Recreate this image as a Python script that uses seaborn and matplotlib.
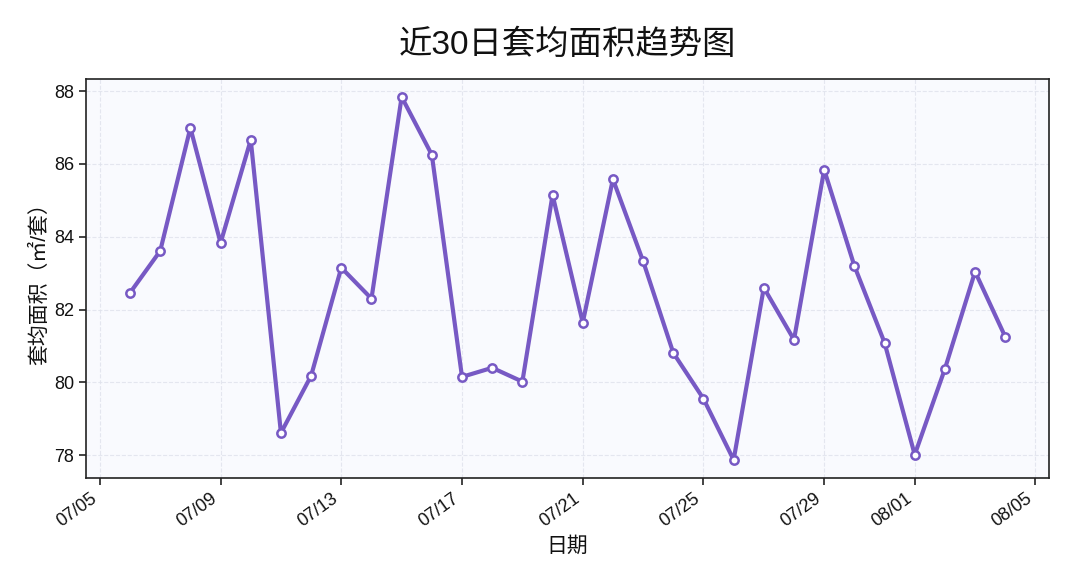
import matplotlib
matplotlib.use("Agg")
import matplotlib.pyplot as plt
import matplotlib.dates as mdates
import seaborn as sns
import pandas as pd

dates = pd.date_range("2024-07-06", "2024-08-04", freq="D")
area = [82.46, 83.61, 86.99, 83.83, 86.66, 78.61, 80.18, 83.15, 82.30, 87.84,
        86.25, 80.15, 80.40, 80.02, 85.15, 81.64, 85.58, 83.33, 80.81, 79.55,
        77.87, 82.60, 81.17, 85.84, 83.20, 81.09, 78.01, 80.37, 83.04, 81.25]

title = "近30日套均面积趋势图"
xlabel = "日期"
ylabel = "套均面积（㎡/套）"

sns.set_style("ticks")
plt.rcParams['font.family'] = ['Liberation Sans', 'Noto Sans CJK SC', 'DejaVu Sans']
plt.rcParams['axes.unicode_minus'] = False

df = pd.DataFrame({"date": dates, "area": area})

fig, ax = plt.subplots(figsize=(10.65, 5.88), dpi=100)
ax.set_facecolor("#f9fafe")
sns.lineplot(data=df, x="date", y="area", ax=ax, color="#7759c4", linewidth=3,
             marker="o", markersize=6, markerfacecolor="white",
             markeredgecolor="#7759c4", markeredgewidth=1.8)

ax.grid(True, linestyle="--", color="#dfe2ec", linewidth=0.8, alpha=0.8)
ax.xaxis.set_major_locator(mdates.DayLocator(bymonthday=[1, 5, 9, 13, 17, 21, 25, 29]))
ax.xaxis.set_major_formatter(mdates.DateFormatter("%m/%d"))
for lab in ax.get_xticklabels():
    lab.set_rotation(36)
    lab.set_ha("right")
ax.tick_params(axis="both", labelsize=13, length=5, width=1.2, color="#222222",
               labelcolor="#111111")
for sp in ax.spines.values():
    sp.set_color("#222222")
    sp.set_linewidth(1.2)

ax.set_title(title, fontsize=24, pad=18, color="#111111")
ax.set_xlabel(xlabel, fontsize=15, color="#111111")
ax.set_ylabel(ylabel, fontsize=15, color="#111111")

fig.subplots_adjust(left=0.081, right=0.985, top=0.866, bottom=0.187)
fig.savefig("out.png", dpi=100)
